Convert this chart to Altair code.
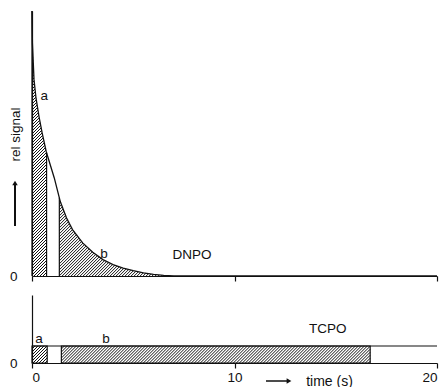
import altair as alt
import numpy as np
import pandas as pd

# ---------------- data ----------------
t_dnpo = [0.0, 0.02, 0.1, 0.2, 0.35, 0.5, 0.7, 0.9, 1.1, 1.4, 1.7, 2.0, 2.5, 3.0,
          3.5, 4.0, 4.5, 5.0, 5.5, 6.0, 6.5, 7.0, 20.0]
v_dnpo = [1.0, 0.88, 0.74, 0.67, 0.60, 0.54, 0.47, 0.42, 0.37, 0.28, 0.22, 0.175,
          0.125, 0.09, 0.062, 0.043, 0.03, 0.02, 0.012, 0.006, 0.002, 0.0, 0.0]
tcpo_t = [0.0, 20.0]
tcpo_v = [0.25, 0.25]
win_names = ["a", "b"]
win_top_start = [0.0, 1.35]
win_top_end = [0.72, 7.0]
win_bot_start = [0.0, 1.45]
win_bot_end = [0.75, 16.7]
x_ticks = [0, 10, 20]
y_ticks = [0]

# ---------------- layout ----------------
W = 405
H_TOP = 265
H_BOT = 68
SX = W / 20.0
FONT = "Liberation Sans"
BLACK = "#111111"


def hatch(curve, t0, t1, sy, step=3.0):
    """Diagonal '/' hatch segments under a curve inside [t0, t1]."""
    X0, X1 = t0 * SX, t1 * SX
    Xg = np.linspace(X0, X1, 3000)
    Yc = curve(Xg / SX) * sy
    rows = []
    for c in np.arange(X0 - Yc.max(), X1, step):
        xs = max(X0, c)
        if xs - c > np.interp(xs, Xg, Yc):
            continue
        above = ((Xg - c) > Yc) & (Xg >= xs)
        xe = Xg[np.argmax(above)] if above.any() else X1
        if xe <= xs:
            continue
        rows.append(dict(t=xs / SX, v=(xs - c) / sy, t2=xe / SX, v2=(xe - c) / sy))
    return rows


dnpo_curve = lambda t: np.interp(t, t_dnpo, v_dnpo)
tcpo_curve = lambda t: np.interp(t, tcpo_t, tcpo_v)

top_hatch = []
for s, e in zip(win_top_start, win_top_end):
    top_hatch += hatch(dnpo_curve, s, e, H_TOP)
bot_hatch = []
for s, e in zip(win_bot_start, win_bot_end):
    bot_hatch += hatch(tcpo_curve, s, e, H_BOT / 1.0)

df_dnpo = pd.DataFrame({"t": t_dnpo, "v": v_dnpo})
df_tcpo = pd.DataFrame({"t": tcpo_t, "v": tcpo_v})
df_top_h = pd.DataFrame(top_hatch)
df_bot_h = pd.DataFrame(bot_hatch)

edges = []
for s, e in zip(win_top_start, win_top_end):
    for tt in (s, e):
        edges.append(dict(t=tt, v=0.0, v2=float(dnpo_curve(tt))))
df_top_edges = pd.DataFrame(edges)
df_bot_win = pd.DataFrame({"name": win_names, "t": win_bot_start, "t2": win_bot_end,
                           "v": [0.0, 0.0], "v2": [tcpo_v[0]] * 2})

xscale = alt.Scale(domain=[0, 20], nice=False, zero=False)
yscale_top = alt.Scale(domain=[0, 1], nice=False)
yscale_bot = alt.Scale(domain=[0, 1], nice=False)

x_axis_top = alt.Axis(values=x_ticks, labels=False, tickSize=5, title=None,
                      domainColor=BLACK, tickColor=BLACK)
x_axis_bot = alt.Axis(values=x_ticks, tickSize=5, labelPadding=2, title="time (s)",
                      titleX=297, titleY=18, titleBaseline="middle", titleAlign="center",
                      titleFontSize=14, titleFontWeight="normal", titleFont=FONT,
                      domainColor=BLACK, tickColor=BLACK)
y_axis_top = alt.Axis(values=y_ticks, ticks=False, labelPadding=15, title="rel signal",
                      titleX=-17, titleY=123, titleAngle=270, titleBaseline="middle",
                      titleAlign="center", titleFontSize=13.5, titleFontWeight="normal",
                      titleFont=FONT, domainColor=BLACK)
y_axis_bot = alt.Axis(values=y_ticks, ticks=False, labelPadding=15, title=None,
                      domainColor=BLACK)


def XT(f):
    return alt.X(f, type="quantitative", scale=xscale, axis=x_axis_top)


def YT(f):
    return alt.Y(f, type="quantitative", scale=yscale_top, axis=y_axis_top)


def XB(f):
    return alt.X(f, type="quantitative", scale=xscale, axis=x_axis_bot)


def YB(f):
    return alt.Y(f, type="quantitative", scale=yscale_bot, axis=y_axis_bot)


# ---------------- top panel (DNPO) ----------------
top_h = alt.Chart(df_top_h).mark_rule(color=BLACK, strokeWidth=1.0).encode(
    x=XT("t"), x2="t2", y=YT("v"), y2="v2")
top_e = alt.Chart(df_top_edges).mark_rule(color=BLACK, strokeWidth=1.2).encode(
    x=XT("t"), y=YT("v"), y2="v2")
top_line = alt.Chart(df_dnpo).mark_line(color=BLACK, strokeWidth=1.3).encode(
    x=XT("t"), y=YT("v"))
top_txt = alt.Chart(pd.DataFrame({"t": [0.6, 3.55, 7.9], "v": [0.68, 0.083, 0.08],
                                  "s": ["a", "b", "DNPO"]})).mark_text(
    font=FONT, fontSize=13.5, color=BLACK, align="center", baseline="middle").encode(
    x=XT("t"), y=YT("v"), text="s:N")
y_arrow = alt.Chart(df_dnpo).mark_rule(color=BLACK, strokeWidth=1).encode(
    x=alt.value(-17), y=alt.value(174), y2=alt.value(215))
y_head = alt.Chart(df_dnpo.head(1)).mark_point(shape="triangle-up", filled=True,
                                               color=BLACK, size=30, opacity=1).encode(
    x=alt.value(-17), y=alt.value(172))

top = alt.layer(top_h, top_e, top_line, top_txt, y_arrow, y_head).properties(
    width=W, height=H_TOP)

# ---------------- bottom panel (TCPO) ----------------
bot_h = alt.Chart(df_bot_h).mark_rule(color=BLACK, strokeWidth=1.0).encode(
    x=XB("t"), x2="t2", y=YB("v"), y2="v2")
bot_rect = alt.Chart(df_bot_win).mark_rect(fillOpacity=0, stroke=BLACK,
                                           strokeWidth=1.2).encode(
    x=XB("t"), x2="t2", y=YB("v"), y2="v2")
bot_line = alt.Chart(df_tcpo).mark_line(color=BLACK, strokeWidth=1.1).encode(
    x=XB("t"), y=YB("v"))
bot_txt = alt.Chart(pd.DataFrame({"t": [0.35, 3.65, 14.6], "v": [0.35, 0.35, 0.5],
                                  "s": ["a", "b", "TCPO"]})).mark_text(
    font=FONT, fontSize=13.5, color=BLACK, align="center", baseline="middle").encode(
    x=XB("t"), y=YB("v"), text="s:N")
x_arrow = alt.Chart(df_tcpo).mark_rule(color=BLACK, strokeWidth=1).encode(
    x=alt.value(234), x2=alt.value(255), y=alt.value(86))
x_head = alt.Chart(df_tcpo.head(1)).mark_point(shape="triangle-right", filled=True,
                                               color=BLACK, size=30, opacity=1).encode(
    x=alt.value(257), y=alt.value(86))

bot = alt.layer(bot_h, bot_rect, bot_line, bot_txt, x_arrow, x_head).properties(
    width=W, height=H_BOT)

chart = alt.vconcat(top, bot, spacing=12).configure_view(stroke=None).configure_axis(
    grid=False, labelFont=FONT, labelFontSize=13.5, labelColor=BLACK, titleColor=BLACK,
    domainWidth=1.2, tickWidth=1.2
).properties(padding={"left": 8, "top": 8, "right": 2, "bottom": 2}, background="white")

chart.save("out.html", embed_options={"renderer": "svg", "actions": False})
